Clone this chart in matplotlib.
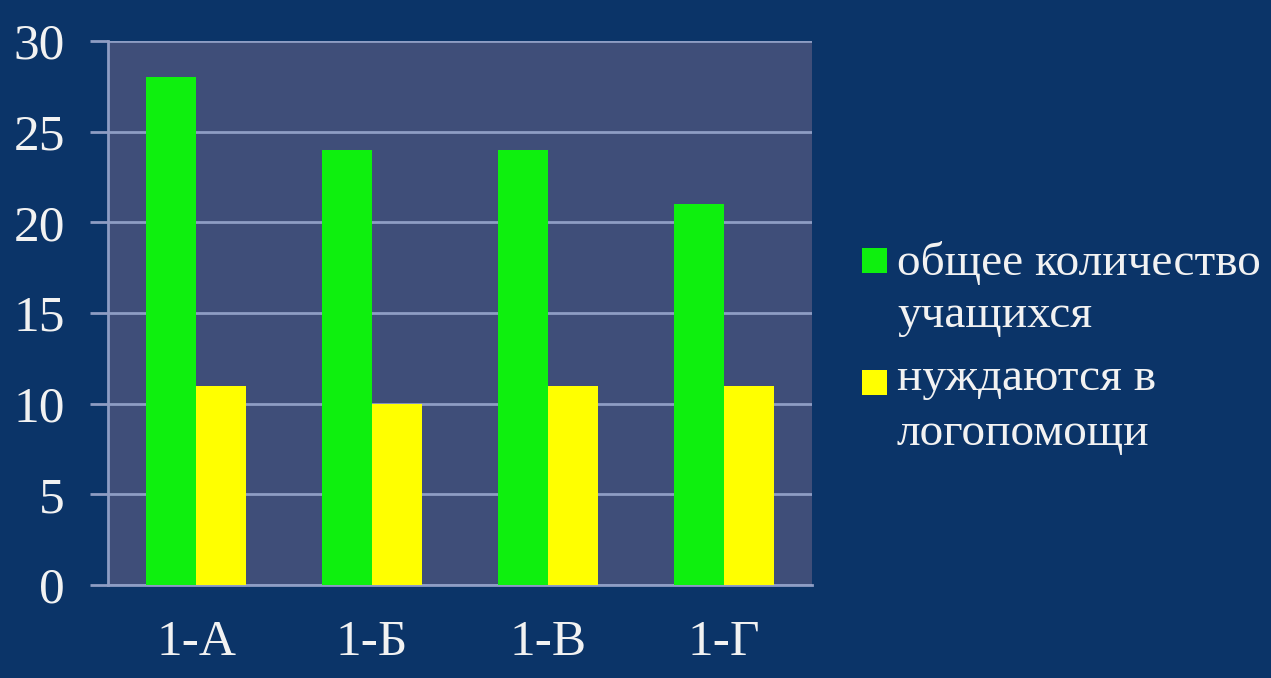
import matplotlib
matplotlib.use("Agg")
import matplotlib.pyplot as plt
import numpy as np
from matplotlib.patches import Rectangle

categories = ["1-А", "1-Б", "1-В", "1-Г"]
total_students = [28, 24, 24, 21]
need_help = [11, 10, 11, 11]
series_labels = [["общее количество", "учащихся"], ["нуждаются в", "логопомощи"]]
yticks = [0, 5, 10, 15, 20, 25, 30]

fig_bg = "#0B3468"
ax_bg = "#3F4E79"
grid_c = "#8E9DC4"
txt_c = "#F2F2F2"
green = "#0EF00E"
yellow = "#FFFF00"
series_colors = [green, yellow]

plt.rcParams["font.family"] = ["Liberation Serif", "DejaVu Serif"]

W, H = 1271, 678
fig = plt.figure(figsize=(W / 100, H / 100), dpi=100, facecolor=fig_bg)
ax = fig.add_axes([0.085, 0.137, 0.554, 0.8025])
ax.set_facecolor(ax_bg)

x = np.arange(len(categories))
w = 0.285
ax.bar(x - w / 2, total_students, width=w, color=green, zorder=3)
ax.bar(x + w / 2, need_help, width=w, color=yellow, zorder=3)

ax.set_xlim(-0.5, len(categories) - 0.5)
ax.set_ylim(0, 30)
ax.set_yticks(yticks)
ax.set_xticks(x)
ax.set_xticklabels(categories)
ax.grid(axis="y", color=grid_c, linewidth=2, zorder=1)
ax.set_axisbelow(True)

for s in ["top", "right"]:
    ax.spines[s].set_visible(False)
for s in ["left", "bottom"]:
    ax.spines[s].set_color(grid_c)
    ax.spines[s].set_linewidth(2)

ax.tick_params(axis="y", colors=grid_c, length=13, width=2, labelsize=37,
               labelcolor=txt_c, pad=18)
ax.tick_params(axis="x", length=0, labelsize=37, labelcolor=txt_c, pad=25)

# legend (square aligned with first line of each entry)
entry_baselines = [[275, 327], [390, 445]]
square_tops = [248, 370]
sq = 25
for lines, col, bases, top in zip(series_labels, series_colors, entry_baselines, square_tops):
    fig.add_artist(Rectangle((862 / W, 1 - (top + sq) / H), sq / W, sq / H,
                             transform=fig.transFigure, facecolor=col,
                             edgecolor="none"))
    for line, b in zip(lines, bases):
        fig.text(897 / W, 1 - b / H, line, fontsize=34, color=txt_c,
                 ha="left", va="baseline")

fig.savefig("out.png", dpi=100, facecolor=fig_bg)
